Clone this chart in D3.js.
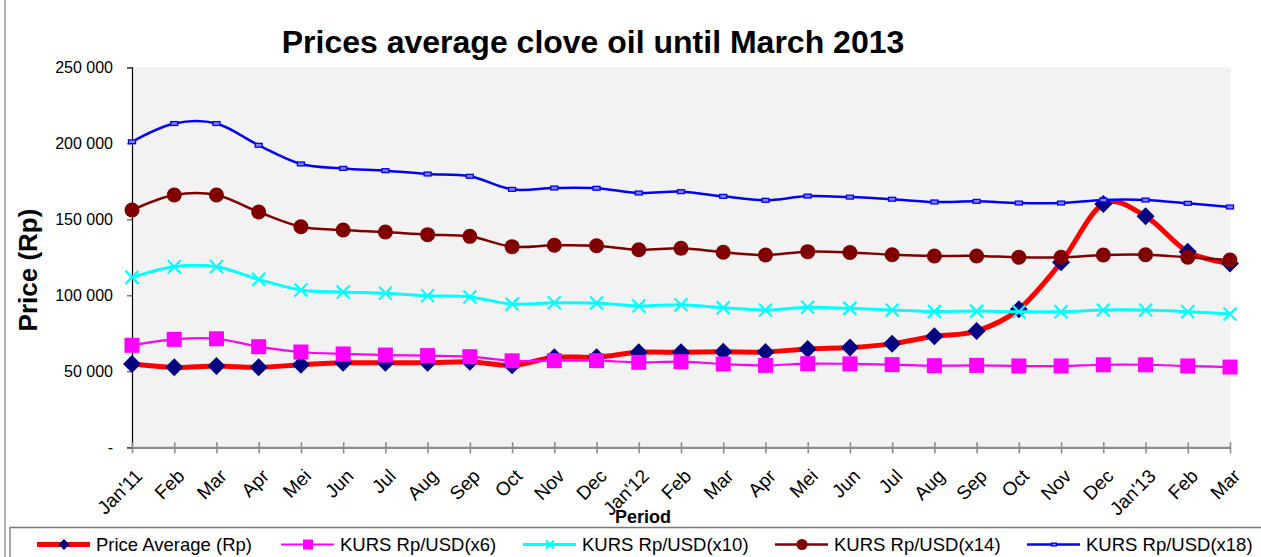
<!DOCTYPE html>
<html>
<head>
<meta charset="utf-8">
<script src="https://cdn.jsdelivr.net/npm/d3@7"></script>
<style>
  body { margin: 0; background: white; }
  text { font-family: "Liberation Sans", Arial, sans-serif; }
</style>
</head>
<body>
<div id="chart"></div>
<script>
//Categories (months)
var months = ["Jan'11", "Feb", "Mar", "Apr", "Mei", "Jun", "Jul", "Aug", "Sep", "Oct", "Nov", "Dec",
  "Jan'12", "Feb", "Mar", "Apr", "Mei", "Jun", "Jul", "Aug", "Sep", "Oct", "Nov", "Dec",
  "Jan'13", "Feb", "Mar"];

//Price average (Rp)
var priceAvg = [54800, 52600, 53500, 52600, 54300, 55600, 55600, 55600, 56300, 53900, 59200, 59300,
  62500, 62500, 62800, 62700, 64700, 65600, 68200, 73000, 76500, 90800, 121700, 160100,
  152000, 128700, 121000];

//KURS Rp/USD multiplied
var kursX6 = [67100, 71000, 71400, 66200, 62700, 61400, 60700, 60300, 59600, 56900, 57000, 57000,
  55900, 56300, 54800, 53900, 55000, 54900, 54400, 53700, 53900, 53500, 53500, 54300,
  54300, 53500, 52800];
var kursX10 = [111800, 118800, 118800, 110500, 103500, 102200, 101300, 99700, 98900, 94300, 95100, 94900,
  93000, 93800, 91800, 90300, 92100, 91400, 90300, 89400, 89600, 89200, 89200, 90300,
  90300, 89200, 87700];
var kursX14 = [156100, 166000, 166000, 154800, 145100, 143000, 141600, 139900, 138800, 132000, 132900, 132600,
  130000, 130900, 128300, 126500, 128700, 128200, 126700, 125900, 125900, 125000, 125000, 126500,
  126700, 125000, 123200];
var kursX18 = [201000, 213000, 213000, 198700, 186400, 183500, 182000, 179800, 178300, 169700, 170600, 170400,
  167300, 168200, 165100, 162500, 165300, 164600, 163200, 161400, 161800, 160700, 160700, 162700,
  162700, 160500, 158100];

var yTicks = [0, 50000, 100000, 150000, 200000, 250000];

var W = 1261, H = 557;

var svg = d3
  .select("#chart")
  .append("svg")
  .attr("width", W)
  .attr("height", H)
  .style("display", "block");

var x = d3.scalePoint().domain(d3.range(months.length)).range([132, 1230]);
var y = d3.scaleLinear().domain([0, 250000]).range([447.3, 67.3]);

//outer left border
svg.append("line")
  .attr("x1", 5).attr("x2", 5).attr("y1", 0).attr("y2", H)
  .attr("stroke", "#9a9a9a").attr("stroke-width", 1.5);

//plot background
svg.append("rect")
  .attr("x", x(0))
  .attr("y", y(250000))
  .attr("width", 1231 - x(0))
  .attr("height", y(0) - y(250000))
  .attr("fill", "#f2f2f2");

//Title
svg.append("text")
  .attr("x", 593)
  .attr("y", 53)
  .attr("text-anchor", "middle")
  .attr("font-size", 32)
  .attr("font-weight", "bold")
  .text("Prices average clove oil until March 2013");

//Y axis
var fmt = function (d) {
  return d === 0 ? "-" : d3.format(",")(d).replace(/,/g, " ");
};
var yAxis = svg.append("g")
  .attr("transform", "translate(" + x(0) + ",0)")
  .call(d3.axisLeft(y).tickValues(yTicks).tickSize(5).tickPadding(14).tickFormat(fmt));
yAxis.select(".domain").attr("stroke", "black").attr("stroke-width", 1.2);
yAxis.selectAll(".tick line").attr("stroke", "#555").attr("stroke-width", 1.2);
yAxis.selectAll(".tick text").attr("font-size", 16).attr("fill", "black")
  .style("font-family", "'Liberation Sans', Arial, sans-serif");

svg.append("text")
  .attr("transform", "translate(36.5,270) rotate(-90)")
  .attr("text-anchor", "middle")
  .attr("font-size", 26)
  .attr("font-weight", "bold")
  .text("Price (Rp)");

//X axis
var xAxis = svg.append("g")
  .attr("transform", "translate(0," + y(0) + ")")
  .call(d3.axisBottom(x).tickSizeOuter(0).tickSizeInner(6).tickFormat(function (i) { return months[i]; }));
xAxis.select(".domain").attr("stroke", "#8c8c8c").attr("stroke-width", 2.3);
xAxis.selectAll(".tick line").attr("stroke", "#8c8c8c").attr("stroke-width", 1.6).attr("y1", -5).attr("y2", 6);
xAxis.selectAll(".tick text")
  .attr("y", null).attr("dy", null)
  .attr("transform", "translate(11,30) rotate(-45)")
  .attr("text-anchor", "end")
  .attr("font-size", 19)
  .attr("fill", "black")
  .style("font-family", "'Liberation Sans', Arial, sans-serif");

svg.append("text")
  .attr("x", 643)
  .attr("y", 522.5)
  .attr("text-anchor", "middle")
  .attr("font-size", 18)
  .attr("font-weight", "bold")
  .text("Period");

//Series
var series = [
  { name: "Price Average (Rp)", values: priceAvg, color: "#ff0000", width: 5, marker: "diamond", mcolor: "#000080" },
  { name: "KURS Rp/USD(x6)", values: kursX6, color: "#ff00ff", width: 2.2, marker: "square", mcolor: "#ff00ff" },
  { name: "KURS Rp/USD(x10)", values: kursX10, color: "#00ffff", width: 3, marker: "cross", mcolor: "#00ffff" },
  { name: "KURS Rp/USD(x14)", values: kursX14, color: "#800000", width: 2.5, marker: "circle", mcolor: "#800000" },
  { name: "KURS Rp/USD(x18)", values: kursX18, color: "#0000ff", width: 2.5, marker: "rect", mcolor: "#0000ff" }
];

var line = d3.line()
  .x(function (d, i) { return x(i); })
  .y(function (d) { return y(d); })
  .curve(d3.curveCatmullRom.alpha(0));

function drawMarker(g, type, color, cx, cy, s) {
  if (type === "diamond") {
    g.append("path")
      .attr("d", "M" + cx + "," + (cy - s) + "L" + (cx + s) + "," + cy + "L" + cx + "," + (cy + s) + "L" + (cx - s) + "," + cy + "Z")
      .attr("fill", color);
  } else if (type === "square") {
    g.append("rect")
      .attr("x", cx - s).attr("y", cy - s).attr("width", 2 * s).attr("height", 2 * s)
      .attr("fill", color);
  } else if (type === "cross") {
    g.append("path")
      .attr("d", "M" + (cx - s) + "," + (cy - s) + "L" + (cx + s) + "," + (cy + s) + "M" + (cx - s) + "," + (cy + s) + "L" + (cx + s) + "," + (cy - s))
      .attr("stroke", color).attr("stroke-width", 2.2).attr("fill", "none");
  } else if (type === "circle") {
    g.append("circle").attr("cx", cx).attr("cy", cy).attr("r", s).attr("fill", color);
  } else {
    g.append("rect")
      .attr("x", cx - s).attr("y", cy - s * 0.55).attr("width", 2 * s).attr("height", s * 1.1)
      .attr("fill", "#8080ff").attr("stroke", color).attr("stroke-width", 1.3);
  }
}

var markerSize = { diamond: 9, square: 7.5, cross: 6.5, circle: 7.5, rect: 3.5 };

series.forEach(function (s) {
  var g = svg.append("g");
  g.append("path")
    .attr("d", line(s.values))
    .attr("fill", "none")
    .attr("stroke", s.color)
    .attr("stroke-width", s.width)
    .attr("stroke-linejoin", "round");
  s.values.forEach(function (v, i) {
    drawMarker(g, s.marker, s.mcolor, x(i), y(v), markerSize[s.marker]);
  });
});

//Legend
svg.append("path")
  .attr("d", "M10," + H + "V527.5H" + W)
  .attr("fill", "none")
  .attr("stroke", "#777")
  .attr("stroke-width", 1.3);

var legendX = [37, 281, 523, 775, 1027];
var legendMk = { diamond: 5.5, square: 5, cross: 4, circle: 5.5, rect: 2.5 };
series.forEach(function (s, i) {
  var g = svg.append("g");
  var lx = legendX[i];
  g.append("line")
    .attr("x1", lx).attr("x2", lx + 53)
    .attr("y1", 544.5).attr("y2", 544.5)
    .attr("stroke", s.color)
    .attr("stroke-width", s.width);
  drawMarker(g, s.marker, s.mcolor, lx + 27, 544.5, legendMk[s.marker]);
  g.append("text")
    .attr("x", lx + 59)
    .attr("y", 550.7)
    .attr("font-size", 18.5)
    .text(s.name);
});
</script>
</body>
</html>
